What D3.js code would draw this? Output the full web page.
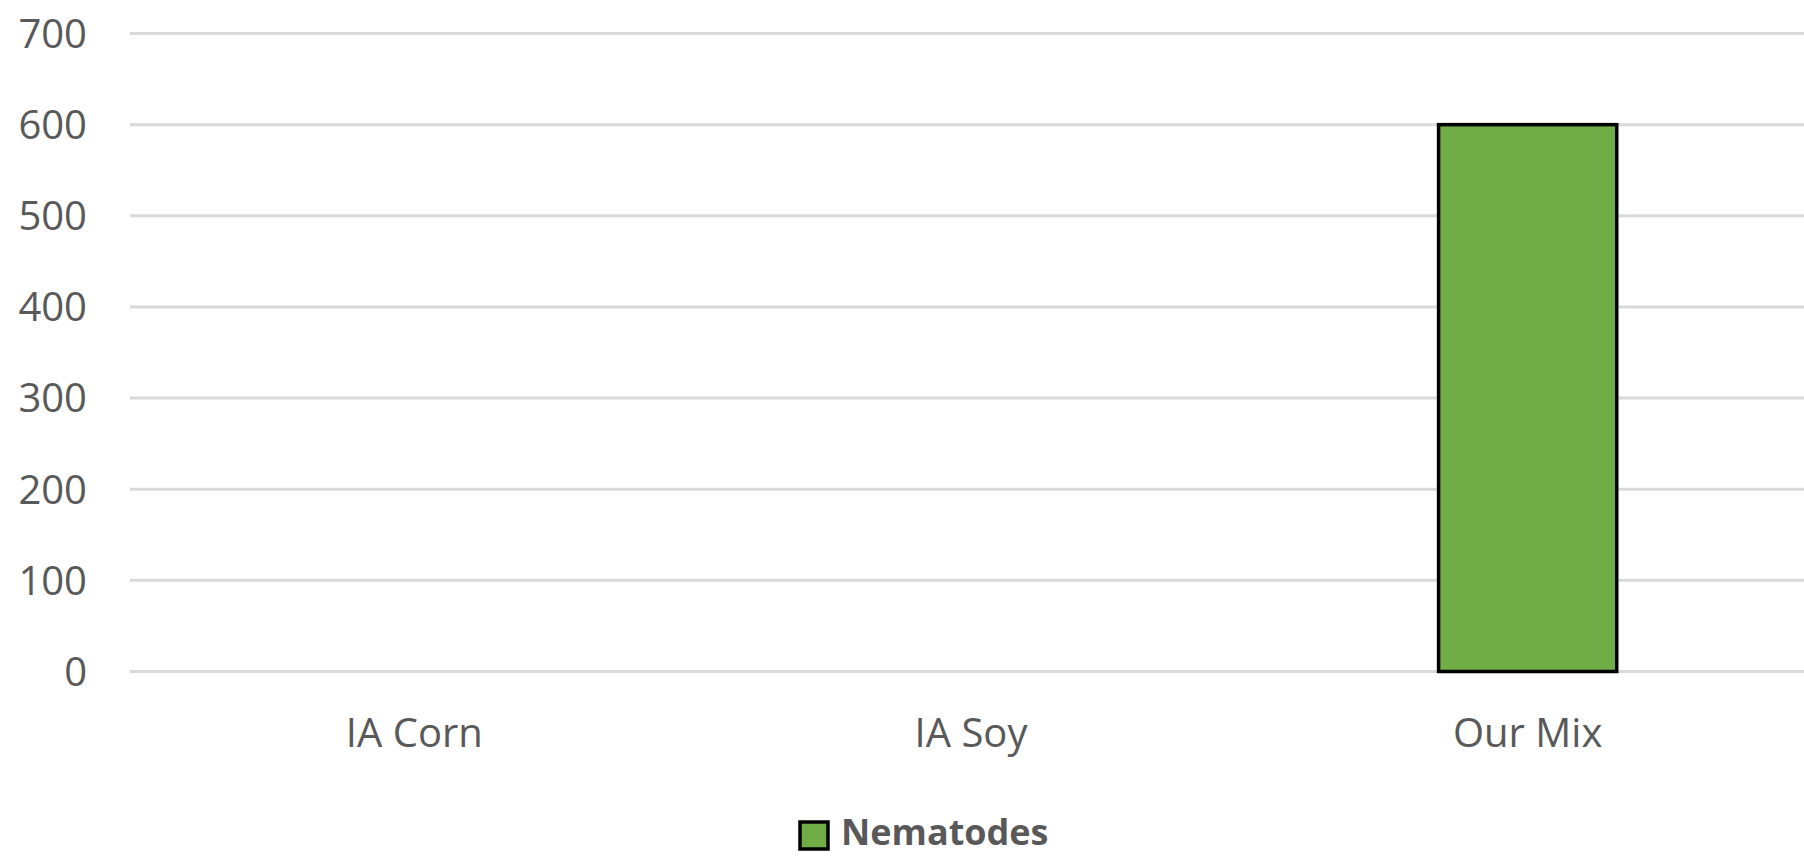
<html>
<head>
<meta charset="utf-8">
<title>Nematodes</title>
<script src="https://d3js.org/d3.v7.min.js"></script>
<style>
  body { margin: 0; background: #fff; }
  svg { display: block; }
</style>
</head>
<body>
<div id="chart"></div>
<script>
const categories = ["IA Corn", "IA Soy", "Our Mix"];
const nematodes = [0, 0, 600];
const yTicks = [0, 100, 200, 300, 400, 500, 600, 700];

const width = 1804, height = 857;

const svg = d3.select("#chart").append("svg")
  .attr("width", width)
  .attr("height", height);

const x = d3.scaleBand()
  .domain(categories)
  .range([136, 1806])
  .paddingInner(0.68)
  .paddingOuter(0.34);

const y = d3.scaleLinear()
  .domain([0, 700])
  .range([671.5, 33.5]);

// gridlines
svg.append("g")
  .selectAll("line")
  .data(yTicks)
  .enter().append("line")
  .attr("x1", 130)
  .attr("x2", width)
  .attr("y1", d => y(d))
  .attr("y2", d => y(d))
  .attr("stroke", "#d9d9d9")
  .attr("stroke-width", 3);

// y labels
svg.append("g")
  .selectAll("text")
  .data(yTicks)
  .enter().append("text")
  .attr("x", 87)
  .attr("y", d => y(d))
  .attr("dy", "0.36em")
  .attr("text-anchor", "end")
  .style("font-family", "'Open Sans', sans-serif")
  .style("font-size", "40px")
  .style("fill", "#595959")
  .text(d => d);

// bars
svg.append("g")
  .selectAll("rect")
  .data(categories.map((c, i) => ({ c: c, v: nematodes[i] })).filter(d => d.v > 0))
  .enter().append("rect")
  .attr("x", d => x(d.c))
  .attr("y", d => y(d.v))
  .attr("width", x.bandwidth())
  .attr("height", d => y(0) - y(d.v))
  .attr("fill", "#70ad47")
  .attr("stroke", "#000")
  .attr("stroke-width", 3.5);

// x labels
svg.append("g")
  .selectAll("text")
  .data(categories)
  .enter().append("text")
  .attr("x", d => x(d) + x.bandwidth() / 2)
  .attr("y", 747)
  .attr("text-anchor", "middle")
  .style("font-family", "'Open Sans', sans-serif")
  .style("font-size", "40px")
  .style("fill", "#595959")
  .text(d => d);

// legend
const legend = svg.append("g");
legend.append("rect")
  .attr("x", 800)
  .attr("y", 822)
  .attr("width", 28)
  .attr("height", 27)
  .attr("fill", "#70ad47")
  .attr("stroke", "#000")
  .attr("stroke-width", 3.5);
legend.append("text")
  .attr("x", 841)
  .attr("y", 845)
  .style("font-family", "'Open Sans', sans-serif")
  .style("font-size", "36px")
  .style("font-weight", "bold")
  .style("fill", "#595959")
  .text("Nematodes");
</script>
</body>
</html>
